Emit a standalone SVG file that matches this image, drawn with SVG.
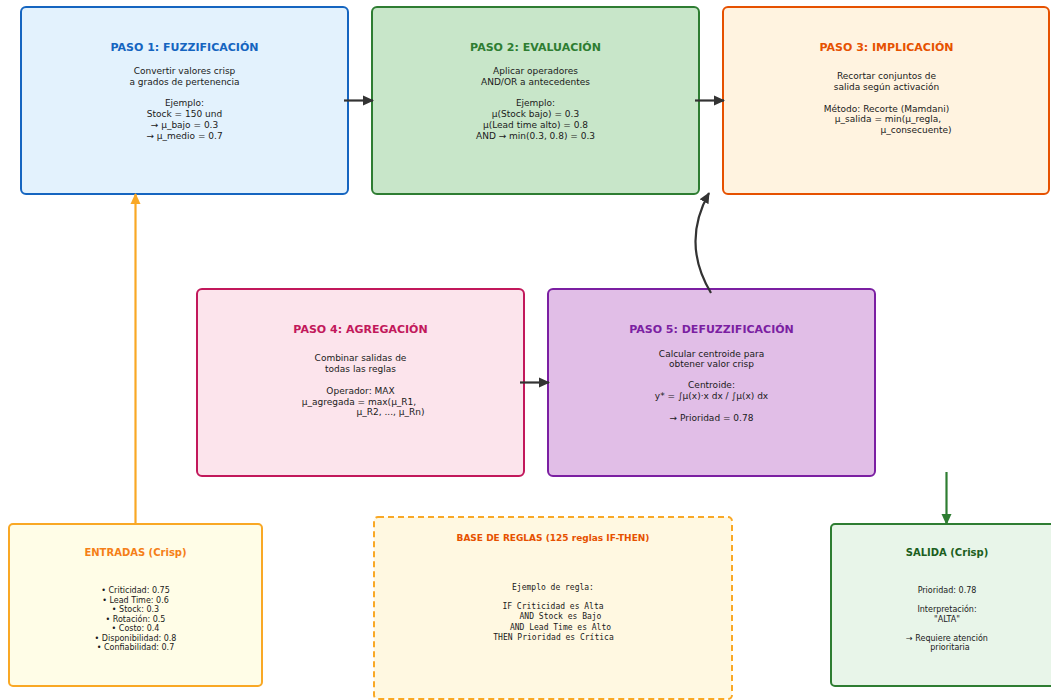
<svg xmlns="http://www.w3.org/2000/svg" width="1051" height="700" viewBox="0 0 1051 700">
<style>
.box{stroke-width:2}
.t{font-family:"DejaVu Sans","Liberation Sans",sans-serif;font-weight:bold;text-anchor:middle}
.b{font-family:"DejaVu Sans","Liberation Sans",sans-serif;font-size:9px;fill:#1a1a1a;text-anchor:middle}
.s{font-family:"DejaVu Sans","Liberation Sans",sans-serif;font-size:8px;fill:#1a1a1a;text-anchor:middle}
.m{font-family:"DejaVu Sans Mono","Liberation Mono",monospace;font-size:8px;fill:#1a1a1a;text-anchor:middle}
.arr{fill:none;stroke:#333;stroke-width:2.2}
</style>
<defs>
<marker id="ah" markerUnits="userSpaceOnUse" markerWidth="11" markerHeight="11" refX="10" refY="5.5" orient="auto" viewBox="0 0 11 11"><path d="M0,0.5 L11,5.5 L0,10.5 Z" fill="#333"/></marker>
<marker id="ahO" markerUnits="userSpaceOnUse" markerWidth="11" markerHeight="11" refX="10" refY="5.5" orient="auto" viewBox="0 0 11 11"><path d="M0,0.5 L11,5.5 L0,10.5 Z" fill="#f9a825"/></marker>
<marker id="ahG" markerUnits="userSpaceOnUse" markerWidth="11" markerHeight="11" refX="10" refY="5.5" orient="auto" viewBox="0 0 11 11"><path d="M0,0.5 L11,5.5 L0,10.5 Z" fill="#2e7d32"/></marker>
</defs>
<rect width="1051" height="700" fill="#ffffff"/>

<g id="paso1">
<rect class="box" x="21" y="7" width="327" height="187" rx="5" fill="#e3f2fd" stroke="#1565c0"/>
<text class="t" x="184.5" y="51" font-size="11" fill="#1565c0">PASO 1: FUZZIFICACIÓN</text>
<text class="b" x="184.5" y="74">Convertir valores crisp</text>
<text class="b" x="184.5" y="85">a grados de pertenencia</text>
<text class="b" x="184.5" y="106">Ejemplo:</text>
<text class="b" x="184.5" y="117">Stock = 150 und</text>
<text class="b" x="184.5" y="128">→ μ_bajo = 0.3</text>
<text class="b" x="184.5" y="139">→ μ_medio = 0.7</text>
</g>

<g id="paso2">
<rect class="box" x="372" y="7" width="327" height="187" rx="5" fill="#c8e6c9" stroke="#2e7d32"/>
<text class="t" x="535.5" y="51" font-size="11" fill="#2e7d32">PASO 2: EVALUACIÓN</text>
<text class="b" x="535.5" y="74">Aplicar operadores</text>
<text class="b" x="535.5" y="85">AND/OR a antecedentes</text>
<text class="b" x="535.5" y="106">Ejemplo:</text>
<text class="b" x="535.5" y="117">μ(Stock bajo) = 0.3</text>
<text class="b" x="535.5" y="128">μ(Lead time alto) = 0.8</text>
<text class="b" x="535.5" y="139">AND → min(0.3, 0.8) = 0.3</text>
</g>

<g id="paso3">
<rect class="box" x="723" y="7" width="326" height="187" rx="5" fill="#fff3e0" stroke="#e65100"/>
<text class="t" x="886.5" y="51" font-size="11" fill="#e65100">PASO 3: IMPLICACIÓN</text>
<text class="b" x="886.5" y="79">Recortar conjuntos de</text>
<text class="b" x="886.5" y="90">salida según activación</text>
<text class="b" x="886.5" y="112">Método: Recorte (Mamdani)</text>
<text class="b" x="888" y="122">μ_salida = min(μ_regla,</text>
<text class="b" x="916" y="133">μ_consecuente)</text>
</g>

<g id="paso4">
<rect class="box" x="197" y="289" width="327" height="187" rx="5" fill="#fce4ec" stroke="#c2185b"/>
<text class="t" x="360.5" y="333" font-size="11" fill="#c2185b">PASO 4: AGREGACIÓN</text>
<text class="b" x="360.5" y="361">Combinar salidas de</text>
<text class="b" x="360.5" y="372">todas las reglas</text>
<text class="b" x="360.5" y="394">Operador: MAX</text>
<text class="b" x="359" y="405">μ_agregada = max(μ_R1,</text>
<text class="b" x="390.5" y="415">μ_R2, ..., μ_Rn)</text>
</g>

<g id="paso5">
<rect class="box" x="548" y="289" width="327" height="187" rx="5" fill="#e1bee7" stroke="#7b1fa2"/>
<text class="t" x="711.5" y="333" font-size="11" fill="#7b1fa2">PASO 5: DEFUZZIFICACIÓN</text>
<text class="b" x="711.5" y="357">Calcular centroide para</text>
<text class="b" x="711.5" y="367">obtener valor crisp</text>
<text class="b" x="711.5" y="388">Centroide:</text>
<text class="b" x="711.5" y="399">y* = ∫μ(x)·x dx / ∫μ(x) dx</text>
<text class="b" x="711.5" y="421">→ Prioridad = 0.78</text>
</g>

<g id="entradas">
<rect class="box" x="9" y="524" width="253" height="162" rx="4" fill="#fffde7" stroke="#f9a825"/>
<text class="t" x="135.5" y="556" font-size="10" fill="#f57f17">ENTRADAS (Crisp)</text>
<text class="s" x="135.5" y="593">• Criticidad: 0.75</text>
<text class="s" x="135.5" y="603">• Lead Time: 0.6</text>
<text class="s" x="135.5" y="612">• Stock: 0.3</text>
<text class="s" x="135.5" y="622">• Rotación: 0.5</text>
<text class="s" x="135.5" y="631">• Costo: 0.4</text>
<text class="s" x="135.5" y="641">• Disponibilidad: 0.8</text>
<text class="s" x="135.5" y="650">• Confiabilidad: 0.7</text>
</g>

<g id="base-reglas">
<rect x="374" y="517" width="358" height="182" rx="4" fill="#fff8e1" stroke="#f9a825" stroke-width="2" stroke-dasharray="6,4"/>
<text class="t" x="553" y="541" font-size="9" fill="#e65100">BASE DE REGLAS (125 reglas IF-THEN)</text>
<text class="m" x="553" y="590">Ejemplo de regla:</text>
<text class="m" x="553" y="609">IF Criticidad es Alta</text>
<text class="m" x="560.5" y="619">AND Stock es Bajo</text>
<text class="m" x="560.5" y="630">AND Lead Time es Alto</text>
<text class="m" x="553.5" y="640">THEN Prioridad es Crítica</text>
</g>

<g id="salida">
<rect class="box" x="831" y="524" width="232" height="162" rx="4" fill="#e8f5e9" stroke="#2e7d32"/>
<text class="t" x="947" y="556" font-size="10" fill="#1b5e20">SALIDA (Crisp)</text>
<text class="s" x="947" y="593">Prioridad: 0.78</text>
<text class="s" x="947" y="612">Interpretación:</text>
<text class="s" x="947" y="622">"ALTA"</text>
<text class="s" x="947" y="641">→ Requiere atención</text>
<text class="s" x="950" y="650">prioritaria</text>
</g>

<g id="connectors">
<line class="arr" x1="344" y1="100.5" x2="373" y2="100.5" marker-end="url(#ah)"/>
<line class="arr" x1="695" y1="100.5" x2="724" y2="100.5" marker-end="url(#ah)"/>
<line class="arr" x1="520" y1="382.5" x2="549" y2="382.5" marker-end="url(#ah)"/>
<path class="arr" d="M711,293 Q681,243 709,193" marker-end="url(#ah)"/>
<line x1="135.5" y1="524" x2="135.5" y2="194" stroke="#f9a825" stroke-width="2.2" marker-end="url(#ahO)"/>
<line x1="946.5" y1="472" x2="946.5" y2="524" stroke="#2e7d32" stroke-width="2.2" marker-end="url(#ahG)"/>
</g>
</svg>
